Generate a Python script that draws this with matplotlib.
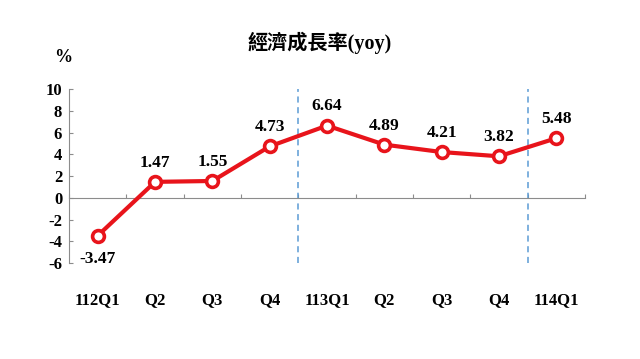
import matplotlib.pyplot as plt
import numpy as np

# 資料
quarters = ['112Q1', 'Q2', 'Q3', 'Q4', '113Q1', 'Q2', 'Q3', 'Q4', '114Q1']
growth = [-3.47, 1.47, 1.55, 4.73, 6.64, 4.89, 4.21, 3.82, 5.48]
year_breaks = [3.5, 7.5]
y_ticks = [10, 8, 6, 4, 2, 0, -2, -4, -6]

serif = ['Liberation Serif', 'DejaVu Serif']
plt.rcParams['font.family'] = serif

fig = plt.figure(figsize=(6.4, 3.59), dpi=100)
ax = fig.add_axes([0.108, 0.267, 0.806, 0.485])

x = np.arange(len(quarters))
ax.plot(x, growth, color='#e8141b', linewidth=3, zorder=3,
        marker='o', markersize=8.5, markerfacecolor='white',
        markeredgecolor='#e8141b', markeredgewidth=2.6)

for xi, v in zip(x, growth):
    if v < 0:
        ax.annotate(f'{v:.2f}', (xi, v), xytext=(0, -11), textcoords='offset points',
                    ha='center', va='top', fontsize=12.5, fontweight='bold')
    else:
        ax.annotate(f'{v:.2f}', (xi, v), xytext=(0, 8), textcoords='offset points',
                    ha='center', va='bottom', fontsize=12.5, fontweight='bold')

ax.vlines(year_breaks, -6, 10, colors='#5b9bd5', linestyles=(0, (4, 3)), linewidth=1.1)

ax.set_xlim(-0.5, len(quarters) - 0.5)
ax.set_ylim(-6, 10)

# 軸
for s in ['top', 'right']:
    ax.spines[s].set_visible(False)
ax.spines['left'].set_color('#8c8c8c')
ax.spines['bottom'].set_color('#8c8c8c')
ax.spines['bottom'].set_position(('data', 0))

ax.set_yticks(y_ticks)
ax.set_yticklabels([str(t) for t in y_ticks], fontsize=12, fontweight='bold')
ax.tick_params(axis='y', direction='in', length=3, color='#8c8c8c', pad=5)

ax.set_xticks(np.arange(len(quarters) + 1) - 0.5)
ax.set_xticklabels([])
ax.tick_params(axis='x', direction='in', length=3, color='#8c8c8c')

trans = ax.get_xaxis_transform()
for xi, lab in zip(x, quarters):
    ax.text(xi, -0.21, lab, transform=trans, ha='center', va='center',
            fontsize=12, fontweight='bold')

fig.text(0.098, 0.84, '%', fontsize=13, fontweight='bold', ha='center', va='center')
fig.text(0.5, 0.882, '經濟成長率(yoy)', fontsize=14.5, fontweight='bold',
         ha='center', va='center', family=['Liberation Serif', 'Noto Sans CJK TC'])

fig.savefig('out.png', dpi=100)
